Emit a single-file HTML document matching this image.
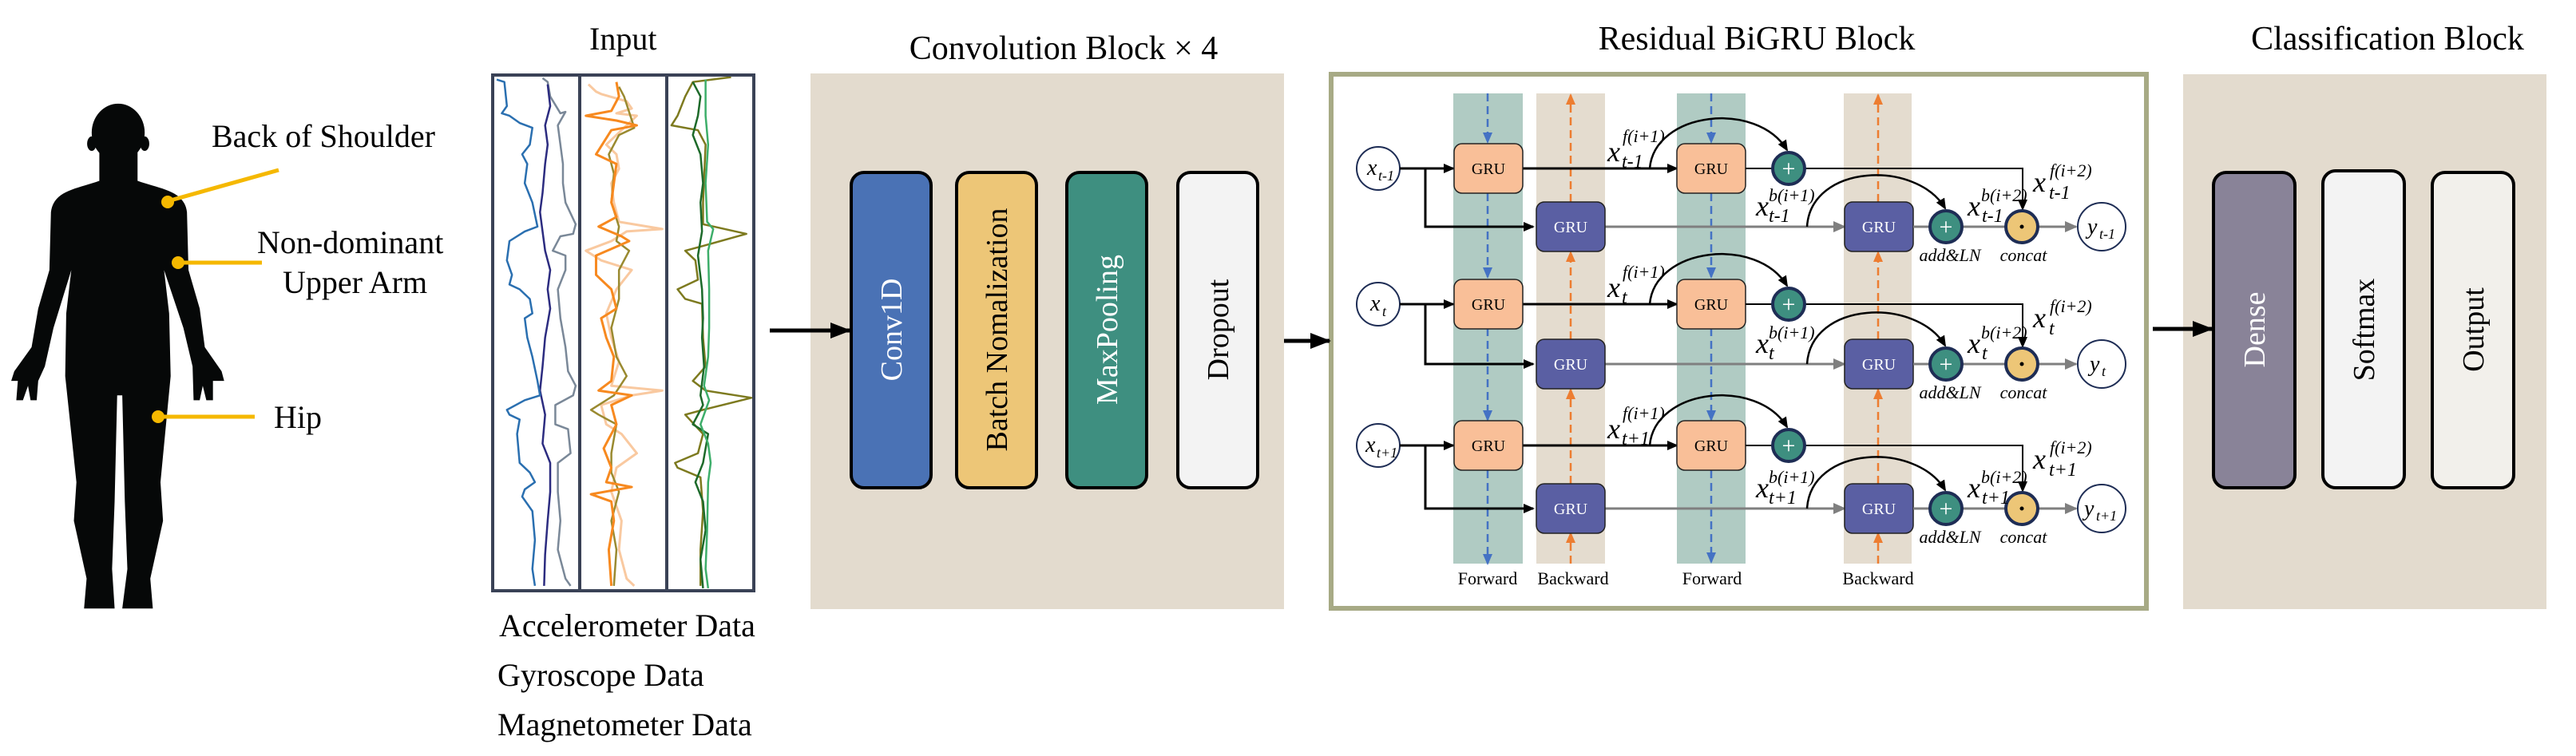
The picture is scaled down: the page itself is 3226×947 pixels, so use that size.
<!DOCTYPE html>
<html><head><meta charset="utf-8"><style>
html,body{margin:0;padding:0;background:#fff;}
svg{display:block;}
text{font-family:"Liberation Serif",serif;}
</style></head><body>
<svg width="3226" height="947" viewBox="0 0 3226 947" xmlns="http://www.w3.org/2000/svg">
<defs>
<marker id="ab" markerUnits="userSpaceOnUse" markerWidth="26" markerHeight="22" refX="24" refY="11" orient="auto"><path d="M0,1 L26,11 L0,21 Z" fill="#000"/></marker>
<marker id="abs" markerUnits="userSpaceOnUse" markerWidth="14" markerHeight="14" refX="12" refY="7" orient="auto"><path d="M0,1 L14,7 L0,13 Z" fill="#000"/></marker>
<marker id="ag" markerUnits="userSpaceOnUse" markerWidth="16" markerHeight="16" refX="14" refY="8" orient="auto"><path d="M0,1 L16,8 L0,15 Z" fill="#7f7f7f"/></marker>
<marker id="abl" markerUnits="userSpaceOnUse" markerWidth="14" markerHeight="14" refX="12" refY="7" orient="auto"><path d="M0,1 L14,7 L0,13 Z" fill="#4472c4"/></marker>
<marker id="aor" markerUnits="userSpaceOnUse" markerWidth="14" markerHeight="14" refX="12" refY="7" orient="auto"><path d="M0,1 L14,7 L0,13 Z" fill="#ed7d31"/></marker>
</defs>

<!-- Human silhouette -->
<g transform="scale(0.638,0.604)" fill="#060808">
<ellipse cx="232" cy="275" rx="52" ry="60"/>
<ellipse cx="180" cy="298" rx="9" ry="15"/><ellipse cx="284" cy="298" rx="9" ry="15"/>
<path d="M195,310 L195,375 C150,392 105,395 100,440 L97,560 L75,640 L62,720 L28,770 L22,790 L35,790 L32,830 L45,830 L55,800 L60,830 L72,830 L75,790 L88,760 L105,680 L140,560 L130,650 L128,780 L150,1000 L145,1080 L170,1200 L165,1262 L225,1262 L220,1180 L225,1040 L230,820 L240,820 L245,1040 L250,1180 L240,1262 L300,1262 L295,1200 L320,1080 L315,1000 L335,780 L332,650 L322,560 L360,680 L378,760 L380,830 L392,830 L398,800 L405,830 L418,830 L418,790 L440,790 L435,770 L402,720 L392,640 L370,560 L367,440 C362,395 315,392 270,375 L270,310 Z"/>
</g>
<g stroke="#f5b800" stroke-width="5" fill="#f5b800">
<line x1="210" y1="252" x2="349" y2="213"/><circle cx="210" cy="253" r="8" stroke="none"/>
<line x1="223" y1="329" x2="328" y2="329"/><circle cx="223" cy="329" r="8" stroke="none"/>
<line x1="198" y1="522" x2="319" y2="522"/><circle cx="198" cy="522" r="8" stroke="none"/>
</g>
<g font-size="40" fill="#000">
<text x="265" y="184">Back of Shoulder</text>
<text x="322" y="317">Non-dominant</text>
<text x="354" y="367">Upper Arm</text>
<text x="343" y="536">Hip</text>
<text x="738" y="62">Input</text>
<text x="625" y="797">Accelerometer Data</text>
<text x="623" y="859">Gyroscope Data</text>
<text x="623" y="921">Magnetometer Data</text>
</g>

<!-- Input signals -->
<g transform="scale(0.638,0.604)" fill="none" stroke-width="2.5" stroke-linejoin="round">
<polyline vector-effect="non-scaling-stroke" stroke="#7a8898" points="1065,162 1075,170 1080,200 1100,235 1110,232 1095,260 1100,300 1105,340 1105,380 1110,420 1130,465 1125,485 1100,490 1085,520 1110,530 1110,560 1095,600 1100,660 1110,720 1115,770 1130,800 1125,820 1090,840 1090,880 1115,890 1120,940 1095,960 1095,1020 1100,1080 1095,1140 1110,1200 1120,1215"/>
<polyline vector-effect="non-scaling-stroke" stroke="#2c2c80" points="1075,175 1080,220 1070,260 1075,300 1070,340 1065,400 1060,440 1065,480 1070,520 1080,560 1075,600 1080,640 1070,700 1065,760 1060,810 1070,860 1065,920 1080,960 1080,1020 1075,1080 1070,1150 1068,1215"/>
<polyline vector-effect="non-scaling-stroke" stroke="#2a6fb0" points="975,165 990,170 995,220 985,235 1000,240 1020,255 1045,265 1040,300 1025,320 1035,340 1030,380 1045,420 1055,470 1030,480 1000,500 995,540 1005,570 1000,590 1020,600 1040,620 1045,650 1030,660 1035,700 1045,740 1055,790 1060,820 1030,830 995,850 1000,860 1020,870 1015,900 1020,960 1040,980 1050,1000 1030,1015 1025,1030 1045,1060 1050,1120 1045,1180 1050,1215"/>
<polyline vector-effect="non-scaling-stroke" stroke="#f9c9a0" stroke-width="3" points="1155,175 1170,190 1180,195 1230,210 1240,225 1210,235 1250,240 1230,260 1190,300 1210,320 1215,350 1200,380 1205,420 1215,460 1300,475 1230,480 1200,500 1150,520 1180,540 1240,560 1210,600 1190,650 1200,700 1215,750 1200,800 1300,810 1240,820 1180,840 1190,880 1220,900 1250,940 1210,970 1200,1020 1220,1080 1215,1140 1230,1200 1245,1215"/>
<polyline vector-effect="non-scaling-stroke" stroke="#9a8a30" points="1215,180 1225,200 1245,265 1215,280 1195,320 1205,360 1200,420 1215,470 1210,500 1235,520 1215,560 1215,620 1200,680 1210,740 1230,780 1205,820 1160,850 1175,860 1210,880 1200,940 1200,980 1215,1020 1200,1080 1210,1140 1205,1215"/>
<polyline vector-effect="non-scaling-stroke" stroke="#f7891f" stroke-width="3" points="1210,170 1215,200 1200,230 1150,240 1210,250 1250,260 1200,270 1170,320 1210,340 1205,380 1200,420 1210,450 1175,470 1220,490 1235,500 1170,530 1170,570 1200,600 1210,640 1180,660 1190,700 1205,740 1200,790 1175,810 1240,820 1200,840 1210,880 1185,930 1200,970 1190,1000 1240,1010 1160,1025 1200,1040 1205,1080 1195,1140 1200,1215"/>
<polyline vector-effect="non-scaling-stroke" stroke="#7d7a1f" points="1435,160 1360,170 1345,200 1330,240 1318,260 1370,270 1385,300 1380,420 1380,465 1465,485 1380,510 1345,520 1365,540 1370,580 1330,600 1345,620 1378,630 1380,700 1385,760 1360,790 1385,810 1475,825 1380,850 1345,860 1380,900 1370,940 1325,960 1330,970 1375,990 1380,1060 1375,1140 1375,1215"/>
<polyline vector-effect="non-scaling-stroke" stroke="#1d6a2a" points="1360,170 1375,200 1370,240 1360,280 1375,320 1380,380 1375,420 1378,480 1370,530 1378,600 1380,660 1378,700 1382,760 1375,820 1380,840 1360,880 1390,900 1380,960 1365,1000 1380,1040 1385,1100 1375,1160 1380,1220"/>
<polyline vector-effect="non-scaling-stroke" stroke="#3dae6a" points="1385,165 1385,240 1390,300 1385,380 1388,460 1400,475 1390,520 1392,600 1392,680 1390,740 1382,800 1392,830 1375,880 1390,920 1395,960 1390,1000 1388,1100 1385,1180 1390,1220"/>
</g>
<rect x="617" y="94" width="327" height="646" fill="none" stroke="#3a4256" stroke-width="4"/>
<line x1="726" y1="94" x2="726" y2="740" stroke="#3a4256" stroke-width="4"/>
<line x1="835" y1="94" x2="835" y2="740" stroke="#3a4256" stroke-width="4"/>

<!-- Convolution block -->
<text x="1332" y="74" font-size="42" text-anchor="middle">Convolution Block × 4</text>
<rect x="1015" y="92" width="593" height="671" fill="#e3dbce"/>
<line x1="964" y1="414" x2="1064" y2="414" stroke="#000" stroke-width="5" marker-end="url(#ab)"/>
<g stroke="#000" stroke-width="4">
<rect x="1066" y="216" width="100" height="395" rx="16" fill="#4a72b5"/>
<rect x="1198" y="216" width="100" height="395" rx="16" fill="#edc677"/>
<rect x="1336" y="216" width="100" height="395" rx="16" fill="#3e8f80"/>
<rect x="1475" y="216" width="100" height="395" rx="16" fill="#f3f3f3"/>
</g>
<g font-size="38" text-anchor="middle">
<text transform="translate(1129,413) rotate(-90)" fill="#fff">Conv1D</text>
<text transform="translate(1261,413) rotate(-90)" fill="#000">Batch Nomalization</text>
<text transform="translate(1399,413) rotate(-90)" fill="#fff">MaxPooling</text>
<text transform="translate(1538,413) rotate(-90)" fill="#000">Dropout</text>
</g>

<!-- Residual BiGRU block -->
<text x="2200" y="62" font-size="42" text-anchor="middle">Residual BiGRU Block</text>
<rect x="1667" y="93" width="1021" height="669" fill="#fff" stroke="#a7aa85" stroke-width="6"/>
<line x1="1608" y1="427" x2="1665" y2="427" stroke="#000" stroke-width="5" marker-end="url(#ab)"/>
<rect x="1820" y="117" width="87" height="589" fill="#b0cbc3"/>
<rect x="1924" y="117" width="86" height="589" fill="#e4dccf"/>
<rect x="2100" y="117" width="86" height="589" fill="#b0cbc3"/>
<rect x="2309" y="117" width="85" height="589" fill="#e4dccf"/>
<g stroke="#4472c4" stroke-width="2.5" stroke-dasharray="10,6" fill="none">
<line x1="1863" y1="117" x2="1863" y2="178" marker-end="url(#abl)"/>
<line x1="1863" y1="242" x2="1863" y2="347" marker-end="url(#abl)"/>
<line x1="1863" y1="411" x2="1863" y2="526" marker-end="url(#abl)"/>
<line x1="1863" y1="589" x2="1863" y2="706" marker-end="url(#abl)"/>
<line x1="2143" y1="117" x2="2143" y2="178" marker-end="url(#abl)"/>
<line x1="2143" y1="242" x2="2143" y2="347" marker-end="url(#abl)"/>
<line x1="2143" y1="411" x2="2143" y2="526" marker-end="url(#abl)"/>
<line x1="2143" y1="589" x2="2143" y2="704" marker-end="url(#abl)"/>
</g>
<g stroke="#ed7d31" stroke-width="2.5" stroke-dasharray="10,6" fill="none">
<line x1="1967" y1="706" x2="1967" y2="668" marker-end="url(#aor)"/>
<line x1="1967" y1="606" x2="1967" y2="488" marker-end="url(#aor)"/>
<line x1="1967" y1="425" x2="1967" y2="316" marker-end="url(#aor)"/>
<line x1="1967" y1="253" x2="1967" y2="119" marker-end="url(#aor)"/>
<line x1="2352" y1="706" x2="2352" y2="668" marker-end="url(#aor)"/>
<line x1="2352" y1="606" x2="2352" y2="488" marker-end="url(#aor)"/>
<line x1="2352" y1="425" x2="2352" y2="316" marker-end="url(#aor)"/>
<line x1="2352" y1="253" x2="2352" y2="119" marker-end="url(#aor)"/>
</g>
<g font-size="22" text-anchor="middle">
<text x="1863" y="732">Forward</text><text x="1970" y="732">Backward</text>
<text x="2144" y="732">Forward</text><text x="2352" y="732">Backward</text>
</g>

<!-- ROW 1 -->
<g>
<path d="M1785,211 V284 H1920" fill="none" stroke="#000" stroke-width="3" marker-end="url(#abs)"/>
<line x1="2533" y1="211" x2="2533" y2="262" stroke="#000" stroke-width="2" marker-end="url(#abs)"/>
<g id="rowF1">
<circle cx="1726" cy="211" r="27" fill="#fff" stroke="#1e2d55" stroke-width="2"/>
<line x1="1753" y1="211" x2="1820" y2="211" stroke="#000" stroke-width="3" marker-end="url(#abs)"/>
<line x1="1907" y1="211" x2="2100" y2="211" stroke="#000" stroke-width="3" marker-end="url(#abs)"/>
<path d="M2066,211 C2072,140 2200,125 2238,188" fill="none" stroke="#000" stroke-width="2.5" marker-end="url(#abs)"/>
<rect x="1821" y="180" width="86" height="62" rx="10" fill="#f9bf98" stroke="#222" stroke-width="1.5"/>
<rect x="2100" y="180" width="86" height="62" rx="10" fill="#f9bf98" stroke="#222" stroke-width="1.5"/>
<text x="1864" y="218" font-size="20" text-anchor="middle">GRU</text>
<text x="2143" y="218" font-size="20" text-anchor="middle">GRU</text>
<line x1="2186" y1="211" x2="2220" y2="211" stroke="#000" stroke-width="2"/>
<line x1="2260" y1="211" x2="2534" y2="211" stroke="#000" stroke-width="2"/>
<circle cx="2240" cy="211" r="20" fill="#3e8f80" stroke="#1e2d55" stroke-width="4"/>
<text x="2240" y="221" font-size="30" fill="#fff" text-anchor="middle" font-family="Liberation Sans">+</text>
</g>
<g id="rowB1">
<line x1="2010" y1="284" x2="2310" y2="284" stroke="#7f7f7f" stroke-width="3" marker-end="url(#ag)"/>
<path d="M2263,284 C2268,205 2400,200 2436,261" fill="none" stroke="#000" stroke-width="2.5" marker-end="url(#abs)"/>
<rect x="1924" y="253" width="86" height="62" rx="10" fill="#5a5fa3" stroke="#222" stroke-width="1.5"/>
<rect x="2310" y="253" width="86" height="62" rx="10" fill="#5a5fa3" stroke="#222" stroke-width="1.5"/>
<text x="1967" y="291" font-size="20" fill="#fff" text-anchor="middle">GRU</text>
<text x="2353" y="291" font-size="20" fill="#fff" text-anchor="middle">GRU</text>
<line x1="2396" y1="284" x2="2600" y2="284" stroke="#7f7f7f" stroke-width="3" marker-end="url(#ag)"/>
<circle cx="2437" cy="284" r="20" fill="#3e8f80" stroke="#1e2d55" stroke-width="4"/>
<text x="2437" y="294" font-size="30" fill="#fff" text-anchor="middle" font-family="Liberation Sans">+</text>
<circle cx="2532" cy="284" r="20" fill="#edc677" stroke="#1e2d55" stroke-width="4"/>
<circle cx="2532" cy="284" r="2.5" fill="#000"/>
<circle cx="2632" cy="284" r="30" fill="#fff" stroke="#1e2d55" stroke-width="2"/>
<text x="2442" y="327" font-size="22" font-style="italic" text-anchor="middle">add&amp;LN</text>
<text x="2534" y="327" font-size="22" font-style="italic" text-anchor="middle">concat</text>
</g>
<g font-style="italic">
<text x="1712" y="219" font-size="28">x</text><text x="1726" y="226" font-size="18">t-1</text>
<text x="2013" y="202" font-size="36">x</text><text x="2032" y="178" font-size="22">f(i+1)</text><text x="2031" y="210" font-size="24">t-1</text>
<text x="2546" y="240" font-size="36">x</text><text x="2567" y="221" font-size="22">f(i+2)</text><text x="2566" y="249" font-size="24">t-1</text>
<text x="2614" y="293" font-size="28">y</text><text x="2629" y="299" font-size="18">t-1</text>
<text x="2199" y="270" font-size="36">x</text><text x="2215" y="252" font-size="22">b(i+1)</text><text x="2215" y="278" font-size="24">t-1</text>
<text x="2464" y="270" font-size="36">x</text><text x="2481" y="252" font-size="22">b(i+2)</text><text x="2482" y="278" font-size="24">t-1</text>
</g>
</g>

<!-- ROW 2 -->
<g>
<path d="M1785,381 V456 H1920" fill="none" stroke="#000" stroke-width="3" marker-end="url(#abs)"/>
<line x1="2533" y1="381" x2="2533" y2="434" stroke="#000" stroke-width="2" marker-end="url(#abs)"/>
<use href="#rowF1" transform="translate(0,170)"/>
<use href="#rowB1" transform="translate(0,172)"/>
<g font-style="italic">
<text x="1716" y="389" font-size="28">x</text><text x="1731" y="396" font-size="18">t</text>
<text x="2013" y="372" font-size="36">x</text><text x="2032" y="348" font-size="22">f(i+1)</text><text x="2031" y="380" font-size="24">t</text>
<text x="2546" y="410" font-size="36">x</text><text x="2567" y="391" font-size="22">f(i+2)</text><text x="2566" y="419" font-size="24">t</text>
<text x="2617" y="465" font-size="28">y</text><text x="2632" y="471" font-size="18">t</text>
<text x="2199" y="442" font-size="36">x</text><text x="2215" y="424" font-size="22">b(i+1)</text><text x="2215" y="450" font-size="24">t</text>
<text x="2464" y="442" font-size="36">x</text><text x="2481" y="424" font-size="22">b(i+2)</text><text x="2482" y="450" font-size="24">t</text>
</g>
</g>

<!-- ROW 3 -->
<g>
<path d="M1785,558 V637 H1920" fill="none" stroke="#000" stroke-width="3" marker-end="url(#abs)"/>
<line x1="2533" y1="558" x2="2533" y2="615" stroke="#000" stroke-width="2" marker-end="url(#abs)"/>
<use href="#rowF1" transform="translate(0,347)"/>
<use href="#rowB1" transform="translate(0,353)"/>
<g font-style="italic">
<text x="1710" y="566" font-size="28">x</text><text x="1724" y="573" font-size="18">t+1</text>
<text x="2013" y="549" font-size="36">x</text><text x="2032" y="525" font-size="22">f(i+1)</text><text x="2031" y="557" font-size="24">t+1</text>
<text x="2546" y="587" font-size="36">x</text><text x="2567" y="568" font-size="22">f(i+2)</text><text x="2566" y="596" font-size="24">t+1</text>
<text x="2610" y="646" font-size="28">y</text><text x="2625" y="652" font-size="18">t+1</text>
<text x="2199" y="623" font-size="36">x</text><text x="2215" y="605" font-size="22">b(i+1)</text><text x="2215" y="631" font-size="24">t+1</text>
<text x="2464" y="623" font-size="36">x</text><text x="2481" y="605" font-size="22">b(i+2)</text><text x="2482" y="631" font-size="24">t+1</text>
</g>
</g>

<!-- Classification block -->
<text x="2990" y="62" font-size="42" text-anchor="middle">Classification Block</text>
<rect x="2734" y="93" width="455" height="670" fill="#e3dbce"/>
<line x1="2696" y1="412" x2="2770" y2="412" stroke="#000" stroke-width="5" marker-end="url(#ab)"/>
<g stroke="#000" stroke-width="4">
<rect x="2772" y="216" width="102" height="395" rx="16" fill="#898398"/>
<rect x="2909" y="214" width="102" height="397" rx="16" fill="#f3f3f3"/>
<rect x="3046" y="216" width="102" height="395" rx="16" fill="#f2f0eb"/>
</g>
<g font-size="38" text-anchor="middle">
<text transform="translate(2836,413) rotate(-90)" fill="#fff">Dense</text>
<text transform="translate(2973,413) rotate(-90)" fill="#000">Softmax</text>
<text transform="translate(3110,413) rotate(-90)" fill="#000">Output</text>
</g>
</svg>
</body></html>
